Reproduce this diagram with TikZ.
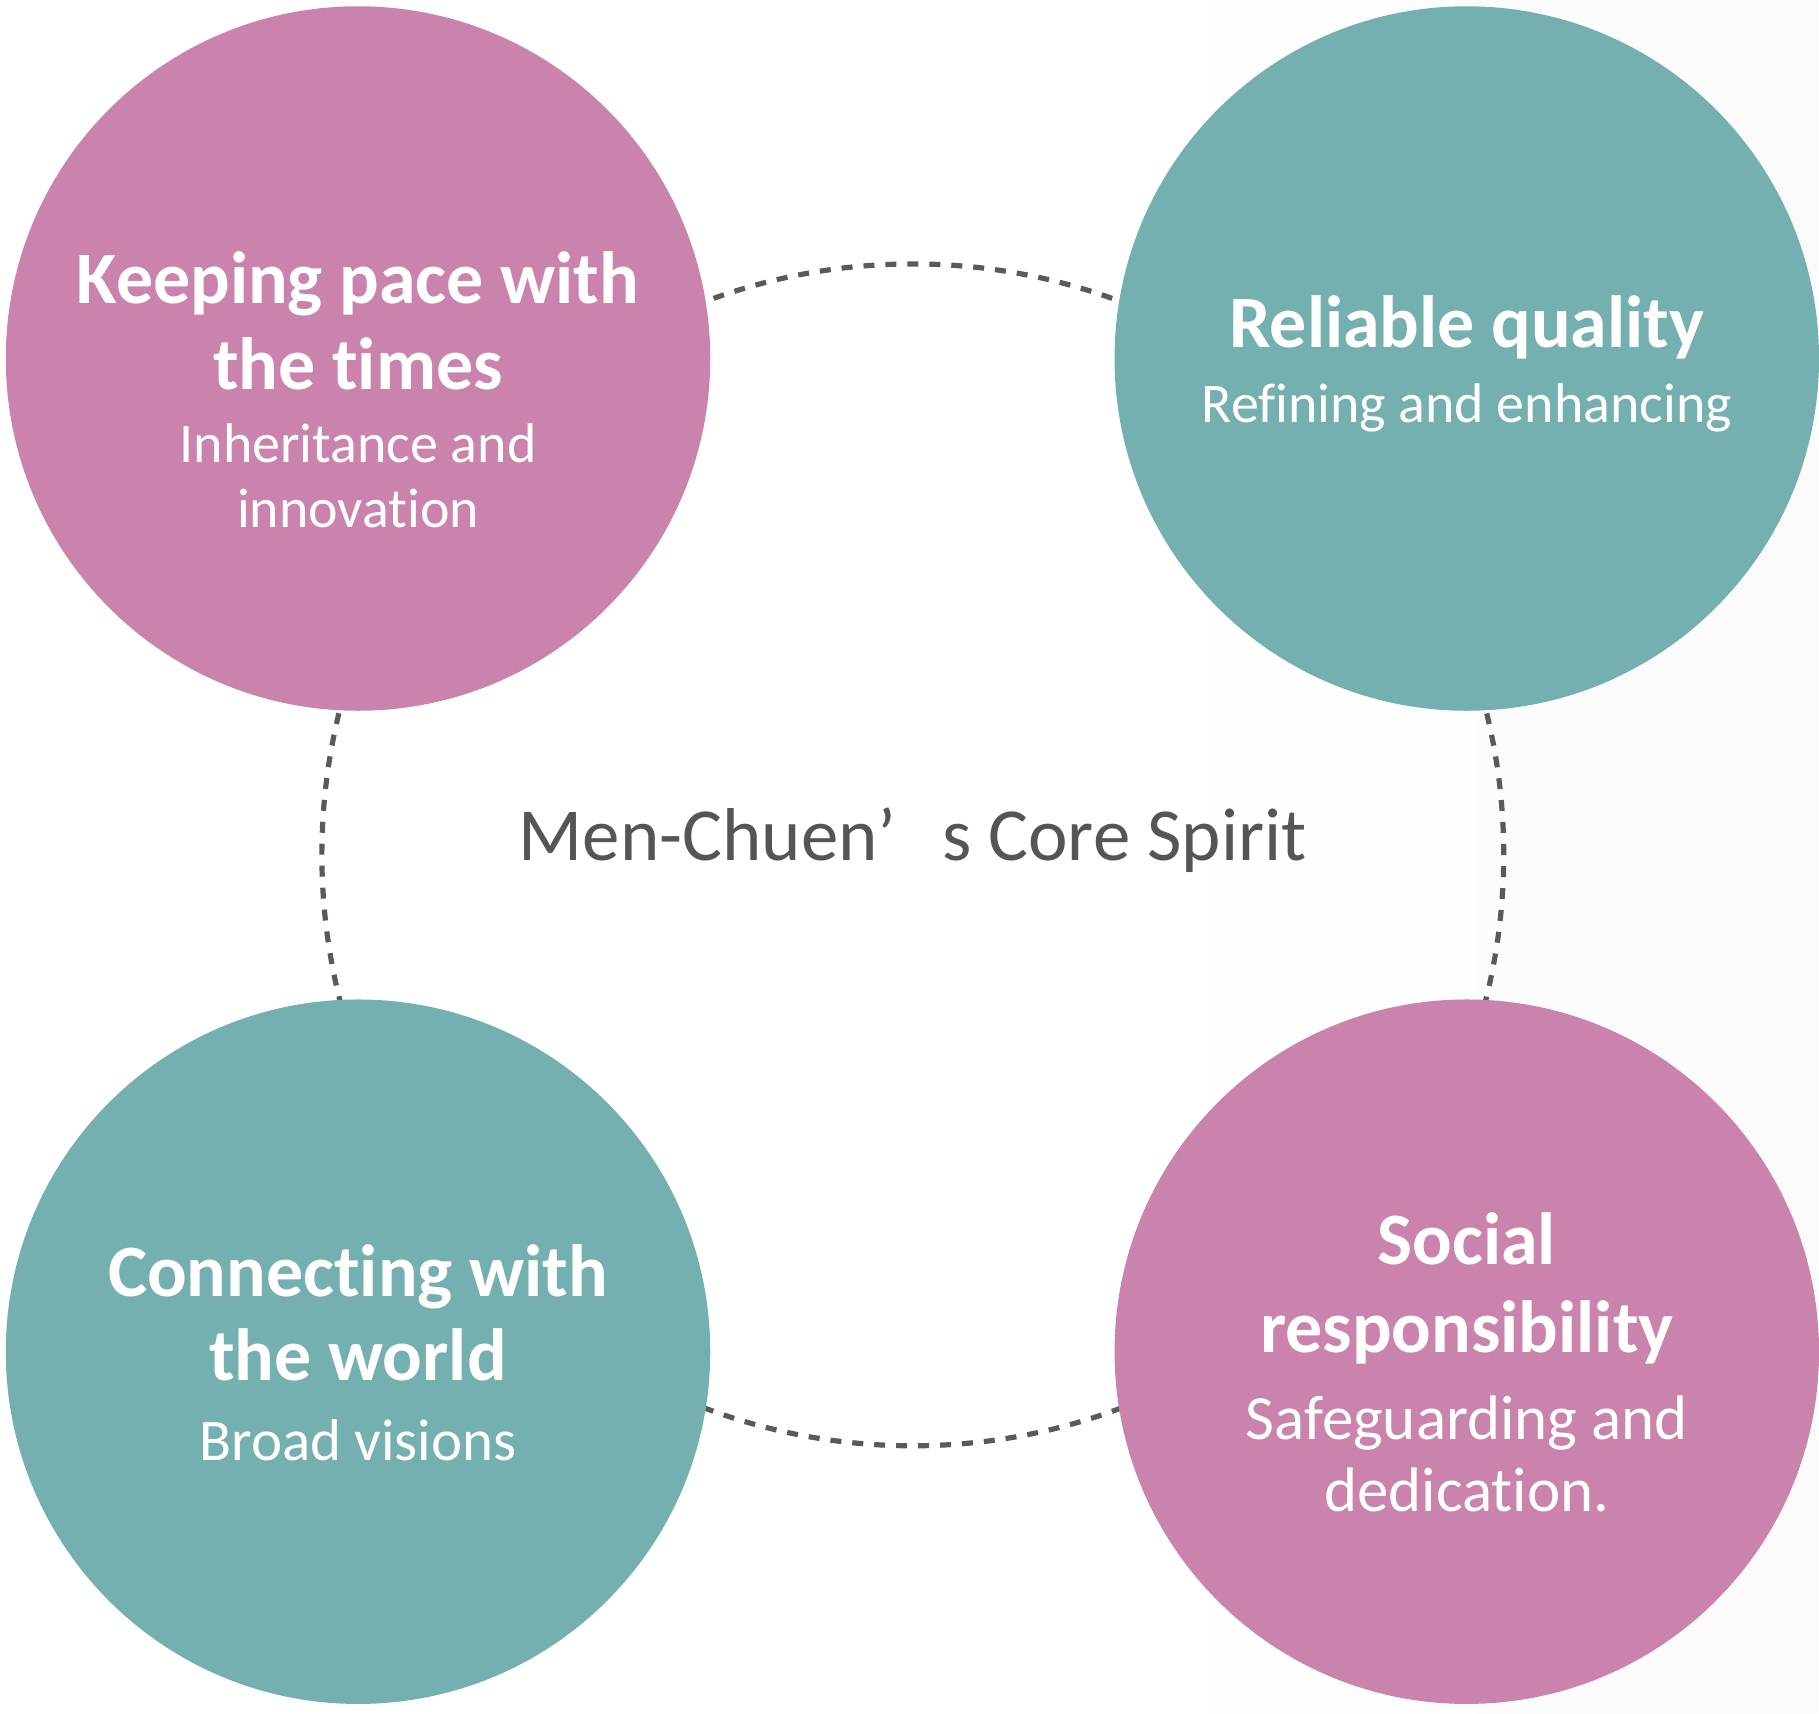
\documentclass[tikz,border=0pt]{standalone}
\usepackage{fontspec}
\setmainfont[Ligatures={NoCommon}]{Carlito}
\usepackage{tikz}
\usetikzlibrary{positioning}
\definecolor{ballpink}{HTML}{C983AD}
\definecolor{ballteal}{HTML}{74B0AF}
\definecolor{ringgray}{HTML}{5A5A5A}
\definecolor{coregray}{HTML}{555555}
\tikzset{pink node/.style={circle,fill=ballpink,minimum size=352.7pt,inner sep=0pt},
         teal node/.style={circle,fill=ballteal,minimum size=352.7pt,inner sep=0pt},
         head text/.style={anchor=base,text=white,inner sep=0pt,font=\fontsize{37}{44}\selectfont\bfseries},
         sub text/.style={anchor=base,text=white,inner sep=0pt,font=\fontsize{28}{34}\selectfont}}

\begin{document}
\begin{tikzpicture}[x=0.5pt,y=-0.5pt]
            % page and faint grey on the right
            \fill[white] (0,0) rectangle (1819,1716);
            \shade[left color=white,right color=black!2] (1150,0) rectangle (1819,1716);

            \coordinate (hub) at (914,856);
            \draw[ringgray,line width=2.6pt,dash pattern=on 5.5pt off 5.5pt] (hub) circle [radius=295.85pt];

            \node[pink node] (keep) at (358.5,359) {};
            \node[teal node] (quality) at (1468.7,359) {};
            \node[teal node] (world) at (358.5,1353.5) {};
            \node[pink node] (social) at (1468.7,1353.5) {};

            \node[anchor=base,text=coregray,inner sep=0pt,font=\fontsize{37.5}{45}\selectfont] (core) at (914,862)
                {Men-Chuen’\hspace{23pt}s Core Spirit};

            \foreach \t/\yy [count=\i] in {Keeping pace with/304,the times/390}{
                \node[head text] (keep head\i) at (358.5,\yy) {\t};
            }
            \foreach \t/\yy [count=\i] in {Inheritance and/463,innovation/528}{
                \node[sub text] (keep sub\i) at (358.5,\yy) {\t};
            }

            \node[head text] (quality head) at (1468.7,348) {Reliable quality};
            \node[sub text] (quality sub) at (1468.7,423) {Refining and enhancing};

            \foreach \t/\yy [count=\i] in {Connecting with/1298,the world/1382}{
                \node[head text] (world head\i) at (358.5,\yy) {\t};
            }
            \node[sub text,font=\fontsize{29.5}{35}\selectfont] (world sub) at (358.5,1462) {Broad visions};

            \foreach \t/\yy [count=\i] in {Social/1266,responsibility/1354}{
                \node[head text] (social head\i) at (1468.7,\yy) {\t};
            }
            \foreach \t/\yy [count=\i] in {Safeguarding and/1441,dedication./1513}{
                \node[sub text,font=\fontsize{31.5}{37}\selectfont] (social sub\i) at (1468.7,\yy) {\t};
            }
        \end{tikzpicture}
\end{document}
